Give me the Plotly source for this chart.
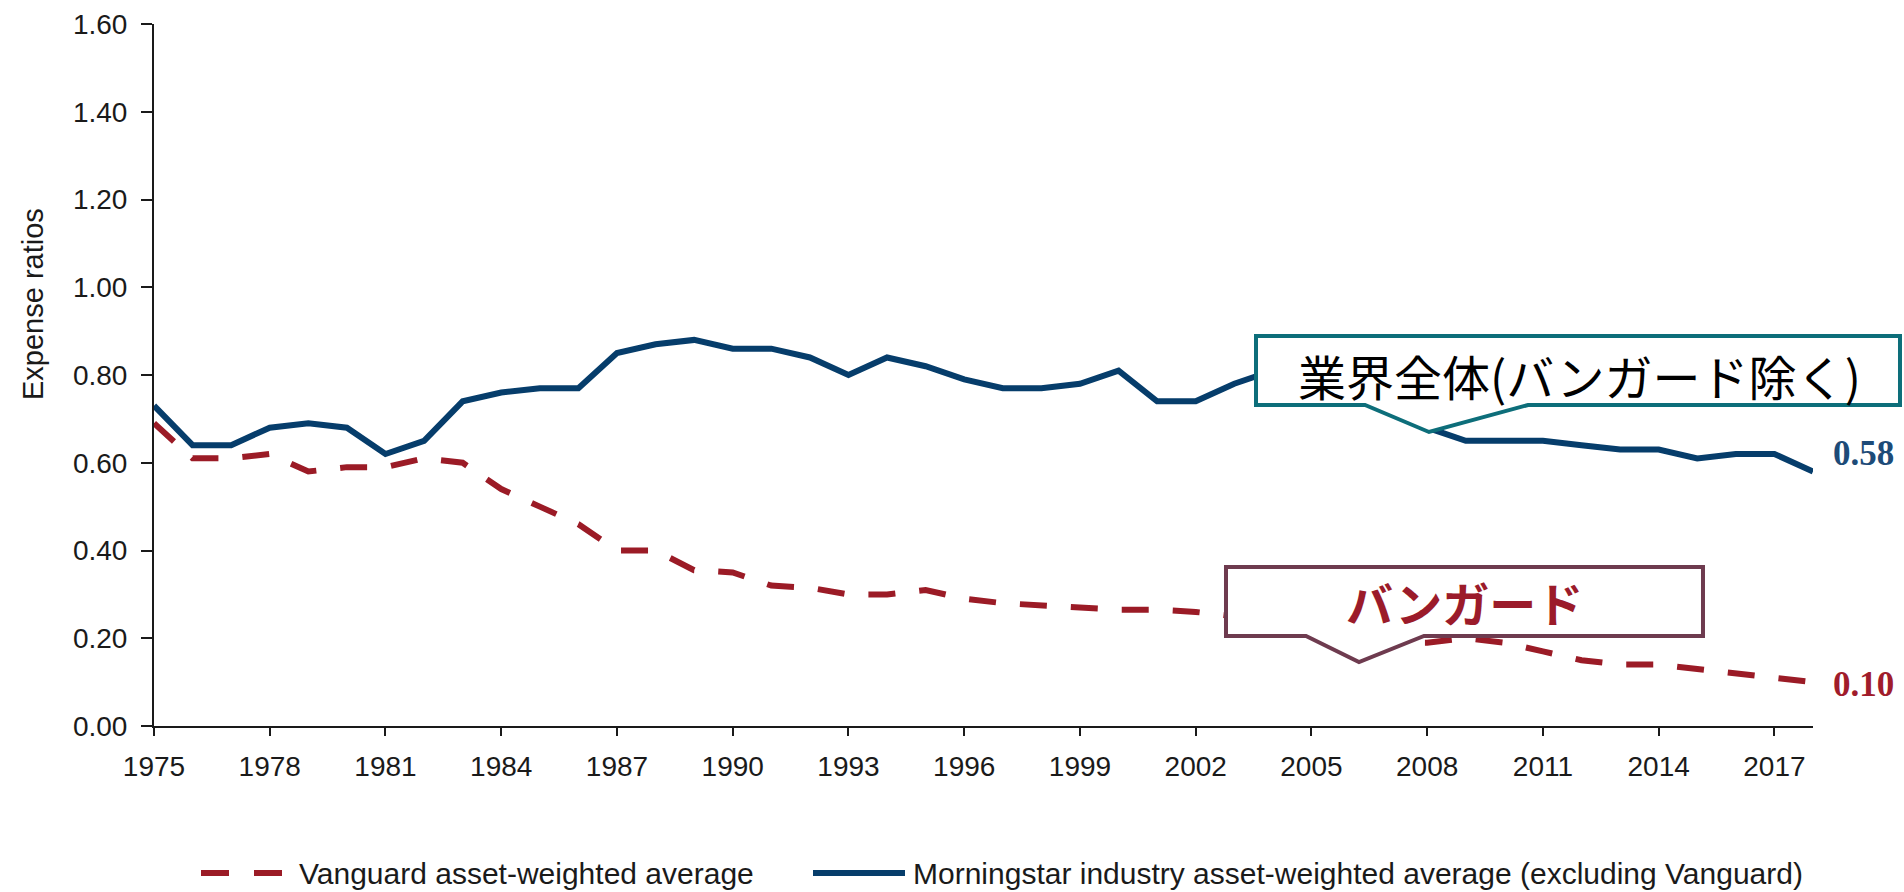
import plotly.graph_objects as go

years = list(range(1975, 2019))
industry = [0.73, 0.64, 0.64, 0.68, 0.69, 0.68, 0.62, 0.65, 0.74, 0.76,
            0.77, 0.77, 0.85, 0.87, 0.88, 0.86, 0.86, 0.84, 0.80, 0.84,
            0.82, 0.79, 0.77, 0.77, 0.78, 0.81, 0.74, 0.74, 0.78, 0.81,
            0.79, 0.76, 0.73, 0.68, 0.65, 0.65, 0.65, 0.64, 0.63, 0.63,
            0.61, 0.62, 0.62, 0.58]
vanguard = [0.69, 0.61, 0.61, 0.62, 0.58, 0.59, 0.59, 0.61, 0.60, 0.54,
            0.50, 0.46, 0.40, 0.40, 0.355, 0.35, 0.32, 0.315, 0.30, 0.30,
            0.31, 0.29, 0.28, 0.275, 0.27, 0.265, 0.265, 0.26, 0.25, 0.23,
            0.22, 0.21, 0.19, 0.19, 0.20, 0.19, 0.17, 0.15, 0.14, 0.14,
            0.13, 0.12, 0.11, 0.10]
y_ticks = [0.0, 0.2, 0.4, 0.6, 0.8, 1.0, 1.2, 1.4, 1.6]
legend_vanguard = "Vanguard asset-weighted average"
legend_industry = "Morningstar industry asset-weighted average (excluding Vanguard)"
callout_industry = "業界全体(バンガード除く)"
callout_vanguard = "バンガード"
y_title = "Expense ratios"

W, H = 1904, 892
L, R, T, B = 154, 91, 24, 166
PW, PH = W - L - R, H - T - B

def px(x):
    return (x - L) / PW

def py(y):
    return (H - B - y) / PH

BLUE = "#063d6b"
RED = "#9b1b26"
AX = "#1a1a1a"
SANS = "Liberation Sans, Arial, sans-serif"
CJK = "Noto Sans CJK JP"

fig = go.Figure()
fig.add_trace(go.Scatter(x=years, y=vanguard, mode="lines", name=legend_vanguard,
                         line=dict(color=RED, width=6, dash="27px,24px"),
                         showlegend=False))
fig.add_trace(go.Scatter(x=years, y=industry, mode="lines", name=legend_industry,
                         line=dict(color=BLUE, width=6), showlegend=False))

def callout_path(pts):
    return "M " + " L ".join(f"{px(a):.5f},{py(b):.5f}" for a, b in pts) + " Z"

shapes = [
    dict(type="path", xref="paper", yref="paper", layer="above",
         path=callout_path([(1256, 336), (1900, 336), (1900, 405), (1528, 405),
                            (1429, 432), (1365, 405), (1256, 405)]),
         fillcolor="white", line=dict(color="#0d6e7a", width=4)),
    dict(type="path", xref="paper", yref="paper", layer="above",
         path=callout_path([(1226, 567), (1703, 567), (1703, 636), (1424, 636),
                            (1359, 662), (1306, 636), (1226, 636)]),
         fillcolor="white", line=dict(color="#6e3b4f", width=4)),
    # manual legend samples
    dict(type="line", xref="paper", yref="paper", x0=px(201), x1=px(285),
         y0=py(873), y1=py(873), line=dict(color=RED, width=6, dash="28px,25px")),
    dict(type="line", xref="paper", yref="paper", x0=px(813), x1=px(905),
         y0=py(873), y1=py(873), line=dict(color=BLUE, width=6)),
]

annotations = [
    dict(x=years[-1], y=industry[-1], xref="x", yref="y", text=f"<b>{industry[-1]:.2f}</b>",
         showarrow=False, xanchor="left", yanchor="middle", xshift=18, yshift=18,
         font=dict(family="Liberation Serif, Times New Roman, serif", size=35, color="#1d4b78")),
    dict(x=years[-1], y=vanguard[-1], xref="x", yref="y", text=f"<b>{vanguard[-1]:.2f}</b>",
         showarrow=False, xanchor="left", yanchor="middle", xshift=18, yshift=-2,
         font=dict(family="Liberation Serif, Times New Roman, serif", size=35, color="#a01c2b")),
    dict(x=px(1579), y=py(375), xref="paper", yref="paper", text=callout_industry,
         showarrow=False, xanchor="center", yanchor="middle",
         font=dict(family=CJK, size=48, color="#000000")),
    dict(x=px(1464), y=py(601), xref="paper", yref="paper", text=f"<b>{callout_vanguard}</b>",
         showarrow=False, xanchor="center", yanchor="middle",
         font=dict(family=CJK, size=47, color="#9b1b2a")),
    dict(x=px(33), y=py(304), xref="paper", yref="paper", text=y_title,
         showarrow=False, textangle=-90, xanchor="center", yanchor="middle",
         font=dict(family=SANS, size=29, color=AX)),
    dict(x=px(297), y=py(873), xref="paper", yref="paper", text=legend_vanguard,
         showarrow=False, xanchor="left", yanchor="middle",
         font=dict(family=SANS, size=30, color=AX)),
    dict(x=px(911), y=py(873), xref="paper", yref="paper", text=legend_industry,
         showarrow=False, xanchor="left", yanchor="middle",
         font=dict(family=SANS, size=30, color=AX)),
]

fig.update_layout(
    width=W, height=H,
    margin=dict(l=L, r=R, t=T, b=B, autoexpand=False),
    paper_bgcolor="white", plot_bgcolor="white",
    showlegend=False,
    shapes=shapes, annotations=annotations,
    xaxis=dict(range=[1975, 2018], tick0=1975, dtick=3, showgrid=False, zeroline=False,
               showline=True, linecolor=AX, linewidth=2, ticks="outside", ticklen=8,
               tickwidth=2, tickcolor=AX, ticklabelstandoff=6,
               tickfont=dict(family=SANS, size=28, color=AX)),
    yaxis=dict(range=[0, 1.6], tickvals=y_ticks, tickformat=".2f", showgrid=False,
               zeroline=False, showline=True, linecolor=AX, linewidth=2,
               ticks="outside", ticklen=11, tickwidth=2, tickcolor=AX,
               ticklabelstandoff=8,
               tickfont=dict(family=SANS, size=28, color=AX)),
)

fig.write_html(
    "out.html",
    config={"displayModeBar": False},
    post_script="document.documentElement.style.margin='0';document.body.style.margin='0';"
                "document.body.style.overflow='hidden';document.documentElement.style.overflow='hidden';",
)
